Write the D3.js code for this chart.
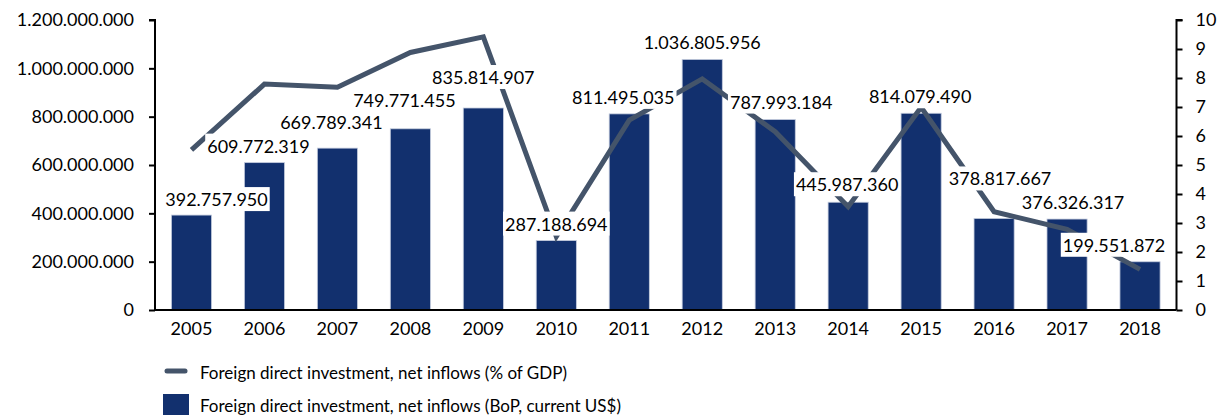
<!DOCTYPE html>
<html>
<head>
<meta charset="utf-8">
<script src="https://cdn.jsdelivr.net/npm/d3@7"></script>
<style>
  html, body { margin: 0; padding: 0; background: #fff; }
  svg { display: block; }
  text { font-family: Lato, "Open Sans", sans-serif; fill: #000; }
</style>
</head>
<body>
<svg id="chart" width="1217" height="415"></svg>
<script>
// FDI net inflows, 2005–2018
const years = ["2005","2006","2007","2008","2009","2010","2011","2012","2013","2014","2015","2016","2017","2018"];
const inflowsUSD = [392757950, 609772319, 669789341, 749771455, 835814907, 287188694, 811495035,
                    1036805956, 787993184, 445987360, 814079490, 378817667, 376326317, 199551872];
const inflowsPctGDP = [5.52, 7.79, 7.68, 8.88, 9.42, 2.53, 6.55, 7.97, 6.15, 3.56, 6.99, 3.39, 2.78, 1.40];
const leftTicks = [0, 200000000, 400000000, 600000000, 800000000, 1000000000, 1200000000];
const rightTicks = [0, 1, 2, 3, 4, 5, 6, 7, 8, 9, 10];
const seriesNames = ["Foreign direct investment, net inflows (% of GDP)",
                     "Foreign direct investment, net inflows (BoP, current US$)"];

// hand-placed label offsets from each bar's centre / top (px)
const labelOffsets = [[25,-16],[-6,-17],[-6,-26],[-6,-29],[0,-31],[0,-17],[-6,-17],[0,-17],[6,-18],[-1,-18],[-1,-17],[6,-40],[6,-17],[-26,-17]];

const BAR = "#12306e", LINE = "#44546a";
const fmt = v => d3.format(",")(v).replace(/,/g, ".");

const svg = d3.select("#chart");
const m = { left: 155, right: 1176.5, top: 20, bottom: 310 };

const x = d3.scaleBand().domain(years).range([m.left, m.right]).paddingInner(0.45).paddingOuter(0.225);
const yL = d3.scaleLinear().domain([0, 1200000000]).range([m.bottom, m.top]);
const yR = d3.scaleLinear().domain([0, 10]).range([m.bottom, m.top]);

const FS = 18, FS_LEG = 17;

// bars
svg.append("g").selectAll("rect").data(years).join("rect")
  .attr("x", d => x(d))
  .attr("y", (d, i) => yL(inflowsUSD[i]))
  .attr("width", x.bandwidth())
  .attr("height", (d, i) => yL(0) - yL(inflowsUSD[i]))
  .attr("fill", BAR)
  .attr("stroke", "#c3cbdd")
  .attr("stroke-width", 0.8);

// % of GDP line
const line = d3.line()
  .x((d, i) => x(years[i]) + x.bandwidth() / 2)
  .y(d => yR(d));
svg.append("path").datum(inflowsPctGDP)
  .attr("d", line)
  .attr("fill", "none")
  .attr("stroke", LINE)
  .attr("stroke-width", 5)
  .attr("stroke-linejoin", "miter");

// left axis
const axL = svg.append("g").attr("transform", `translate(${m.left},0)`)
  .call(d3.axisLeft(yL).tickValues(leftTicks).tickFormat(fmt).tickSize(6).tickPadding(15));
// right axis
const axR = svg.append("g").attr("transform", `translate(${m.right},0)`)
  .call(d3.axisRight(yR).tickValues(rightTicks).tickFormat(d3.format("d")).tickSize(6).tickPadding(13));
// bottom axis
const axB = svg.append("g").attr("transform", `translate(0,${m.bottom})`)
  .call(d3.axisBottom(x).tickSize(0).tickPadding(12));

[axL, axR, axB].forEach(a => {
  a.select(".domain").attr("stroke", "#000").attr("stroke-width", 2);
  a.selectAll(".tick line").attr("stroke", "#000").attr("stroke-width", 2);
  a.selectAll(".tick text").attr("font-size", FS).attr("font-family", "Lato, sans-serif").attr("fill", "#000");
});
axL.select(".domain").attr("d", `M-6,${m.top}H0V${m.bottom}`);
axR.select(".domain").attr("d", `M6,${m.top}H0V${m.bottom}`);
axB.select(".domain").attr("d", `M${m.left},0H${m.right}`);

// data labels with white backgrounds
const lbl = svg.append("g").selectAll("g").data(years).join("g")
  .attr("transform", (d, i) => `translate(${x(d) + x.bandwidth() / 2 + labelOffsets[i][0]},${yL(inflowsUSD[i]) + labelOffsets[i][1]})`);
lbl.append("rect").attr("fill", "#fff");
lbl.append("text")
  .attr("text-anchor", "middle")
  .attr("dominant-baseline", "central")
  .attr("font-size", FS)
  .text((d, i) => fmt(inflowsUSD[i]));
lbl.each(function () {
  const g = d3.select(this);
  const w = g.select("text").node().getComputedTextLength();
  g.select("rect").attr("x", -w / 2 - 2).attr("y", -12).attr("width", w + 4).attr("height", 24);
});

// legend
const leg = svg.append("g");
leg.append("line").attr("x1", 167).attr("x2", 185).attr("y1", 371).attr("y2", 371)
  .attr("stroke", LINE).attr("stroke-width", 5).attr("stroke-linecap", "round");
leg.append("text").attr("x", 200).attr("y", 372).attr("dominant-baseline", "central")
  .attr("font-size", FS_LEG).text(seriesNames[0]);
leg.append("rect").attr("x", 163).attr("y", 394).attr("width", 26).attr("height", 21).attr("fill", BAR);
leg.append("text").attr("x", 200).attr("y", 405).attr("dominant-baseline", "central")
  .attr("font-size", FS_LEG).text(seriesNames[1]);
</script>
</body>
</html>
